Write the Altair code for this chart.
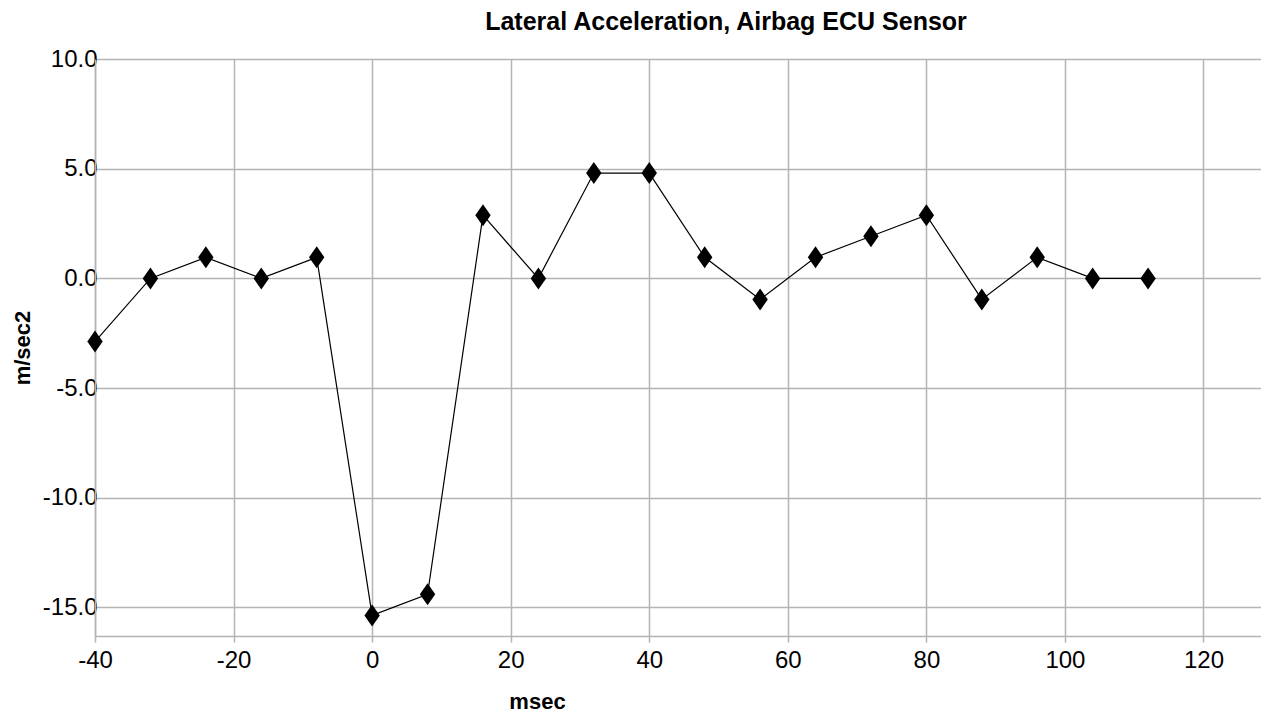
import altair as alt
import pandas as pd

# Data
msec = [-40, -32, -24, -16, -8, 0, 8, 16, 24, 32, 40, 48, 56, 64, 72, 80, 88, 96, 104, 112]
accel = [-2.88, 0.0, 0.96, 0.0, 0.96, -15.36, -14.4, 2.88, 0.0, 4.8, 4.8, 0.96, -0.96,
         0.96, 1.92, 2.88, -0.96, 0.96, 0.0, 0.0]
x_ticks = [-40, -20, 0, 20, 40, 60, 80, 100, 120]
y_ticks = [-15, -10, -5, 0, 5, 10]

df = pd.DataFrame({"msec": msec, "accel": accel})

FONT = "Liberation Sans"
GRID = "#b4b4b4"

W, H = 1166, 577
HYPHEN = "replace(datum.label, '\u2212', '-')"

x_enc = alt.X(
    "msec:Q",
    scale=alt.Scale(domain=[-40, 128.3], nice=False, zero=False),
    axis=alt.Axis(
        values=x_ticks, title="msec", grid=True, gridColor=GRID, gridWidth=1.5,
        domainColor=GRID, domainWidth=1.5, tickColor=GRID, tickSize=6, tickWidth=1.5,
        labelFont=FONT, labelFontSize=24, labelColor="#000000", labelPadding=6,
        labelExpr=HYPHEN,
        titleFont=FONT, titleFontSize=22, titleFontWeight="bold", titleColor="#000000",
        titleX=442, titleAnchor="middle", titlePadding=19, labelFlush=False,
    ),
)
y_enc = alt.Y(
    "accel:Q",
    scale=alt.Scale(domain=[-16.3, 10], nice=False, zero=False),
    axis=alt.Axis(
        values=y_ticks, format=".1f", title="m/sec2", grid=True, gridColor=GRID,
        gridWidth=1.5, domainColor=GRID, domainWidth=1.5, ticks=False,
        labelFont=FONT, labelFontSize=24, labelColor="#000000", labelPadding=-2,
        labelExpr=HYPHEN,
        titleFont=FONT, titleFontSize=22, titleFontWeight="bold", titleColor="#000000",
        titleX=-73, titleY=H / 2, titleAngle=270, titleBaseline="middle",
        titleAlign="center", labelFlush=False,
    ),
)

base = alt.Chart(df)

line = base.mark_line(color="#000000", strokeWidth=1.2).encode(x=x_enc, y=y_enc)
points = base.mark_point(
    shape="M0,-1L0.7,0L0,1L-0.7,0Z", filled=True, color="#000000", opacity=1, size=484
).encode(x="msec:Q", y="accel:Q")

chart = (
    (line + points)
    .properties(
        width=W,
        height=H,
        autosize="none",
        padding={"left": 87, "top": 51, "right": 0, "bottom": 76},
        title=alt.TitleParams(
            "Lateral Acceleration, Airbag ECU Sensor",
            font=FONT, fontSize=25, fontWeight="bold", color="#000000",
            anchor="middle", frame="group", dx=48, offset=12,
        ),
    )
    .configure_view(stroke=None)
)

chart.save("out.html", embed_options={"renderer": "svg", "actions": False})
